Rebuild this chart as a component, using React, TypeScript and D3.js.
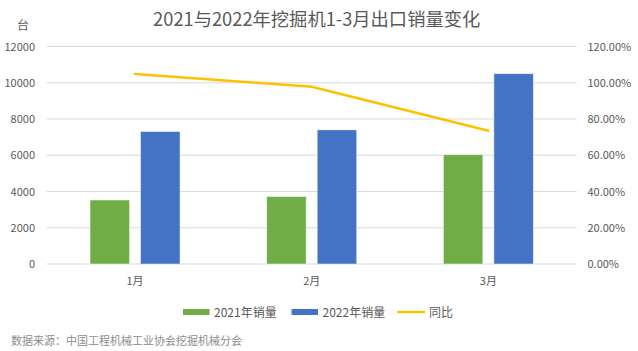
import { useEffect, useRef } from 'react';
import * as d3 from 'd3';

const months = ['1月', '2月', '3月'];
const sales2021 = [3530, 3720, 6030];
const sales2022 = [7310, 7400, 10500];
const yoy = [1.048, 0.978, 0.735];
const leftTicks = [0, 2000, 4000, 6000, 8000, 10000, 12000];
const rightTicks = [0, 0.2, 0.4, 0.6, 0.8, 1.0, 1.2];
const seriesNames = ['2021年销量', '2022年销量', '同比'];

const App = () => {
  const svgRef = useRef(null);

  useEffect(() => {
    const width = 638;
    const height = 351;
    const font = '"Noto Sans CJK SC", "Noto Sans", sans-serif';
    const textColor = '#595959';
    const colors = ['#70AD47', '#4472C4', '#FFC000'];

    const svg = d3.select(svgRef.current);
    svg.selectAll('*').remove();
    svg.attr('width', width).attr('height', height)
      .style('font-family', font);

    svg.append('rect').attr('width', width).attr('height', height).attr('fill', '#fff');

    const left = 46.7, right = 576.7, top = 46.5, bottom = 264;

    const x = d3.scaleBand().domain(months).range([left, right]);
    const y = d3.scaleLinear().domain([0, 12000]).range([bottom, top]);
    const y2 = d3.scaleLinear().domain([0, 1.2]).range([bottom, top]);

    // grid
    svg.append('g')
      .selectAll('line')
      .data(leftTicks)
      .enter()
      .append('line')
      .attr('x1', left)
      .attr('x2', right)
      .attr('y1', d => y(d))
      .attr('y2', d => y(d))
      .attr('stroke', '#d9d9d9')
      .attr('stroke-width', 1);

    // left axis labels
    svg.append('g')
      .selectAll('text')
      .data(leftTicks)
      .enter()
      .append('text')
      .attr('x', 35)
      .attr('y', d => y(d) + 4)
      .attr('text-anchor', 'end')
      .attr('font-size', 11)
      .attr('fill', textColor)
      .text(d => d);

    // right axis labels
    svg.append('g')
      .selectAll('text')
      .data(rightTicks)
      .enter()
      .append('text')
      .attr('x', 587.5)
      .attr('y', d => y2(d) + 4)
      .attr('font-size', 11)
      .attr('fill', textColor)
      .text(d => d3.format('.2%')(d));

    // bars
    const barW = 39.5;
    const gap = 11;
    const groups = svg.append('g')
      .selectAll('g')
      .data(months)
      .enter()
      .append('g');

    [sales2021, sales2022].forEach((series, si) => {
      groups.append('rect')
        .attr('x', (d, i) => x(d) + x.bandwidth() / 2 + (si === 0 ? -(barW + gap / 2) : gap / 2))
        .attr('y', (d, i) => y(series[i]))
        .attr('width', barW)
        .attr('height', (d, i) => bottom - y(series[i]))
        .attr('fill', colors[si])
        .attr('stroke', 'rgba(255,255,255,0.6)')
        .attr('stroke-width', 0.8);
    });

    // yoy line
    const line = d3.line()
      .x((d, i) => x(months[i]) + x.bandwidth() / 2)
      .y(d => y2(d));

    svg.append('path')
      .datum(yoy)
      .attr('d', line)
      .attr('fill', 'none')
      .attr('stroke', colors[2])
      .attr('stroke-width', 2.5)
      .attr('stroke-linecap', 'round');

    // x labels
    svg.append('g')
      .selectAll('text')
      .data(months)
      .enter()
      .append('text')
      .attr('x', d => x(d) + x.bandwidth() / 2)
      .attr('y', 285)
      .attr('text-anchor', 'middle')
      .attr('font-size', 11)
      .attr('fill', textColor)
      .text(d => d);

    // title
    svg.append('text')
      .attr('x', 316.7)
      .attr('y', 25.5)
      .attr('text-anchor', 'middle')
      .attr('font-size', 18.3)
      .attr('fill', textColor)
      .text('2021与2022年挖掘机1-3月出口销量变化');

    svg.append('text')
      .attr('x', 23)
      .attr('y', 30)
      .attr('text-anchor', 'middle')
      .attr('font-size', 12)
      .attr('fill', textColor)
      .text('台');

    // legend
    const legendX = [183, 291.5, 397];
    const legend = svg.append('g')
      .selectAll('g')
      .data(seriesNames)
      .enter()
      .append('g')
      .attr('transform', (d, i) => `translate(${legendX[i]},312)`);

    legend.append('rect')
      .attr('x', 0)
      .attr('y', (d, i) => (i < 2 ? -3 : -1.2))
      .attr('width', (d, i) => (i < 2 ? 26.5 : 28))
      .attr('height', (d, i) => (i < 2 ? 6 : 2.4))
      .attr('fill', (d, i) => colors[i]);

    legend.append('text')
      .attr('x', (d, i) => (i < 2 ? 31 : 32))
      .attr('y', 4.5)
      .attr('font-size', 12)
      .attr('fill', textColor)
      .text(d => d);

    // source
    svg.append('text')
      .attr('x', 11)
      .attr('y', 345)
      .attr('font-size', 11)
      .attr('fill', '#8c8c8c')
      .text('数据来源：中国工程机械工业协会挖掘机械分会');
  }, []);

  return (
    <div style={{ position: 'absolute', left: 0, top: 0 }}>
      <svg ref={svgRef}></svg>
    </div>
  );
};

export default App;
